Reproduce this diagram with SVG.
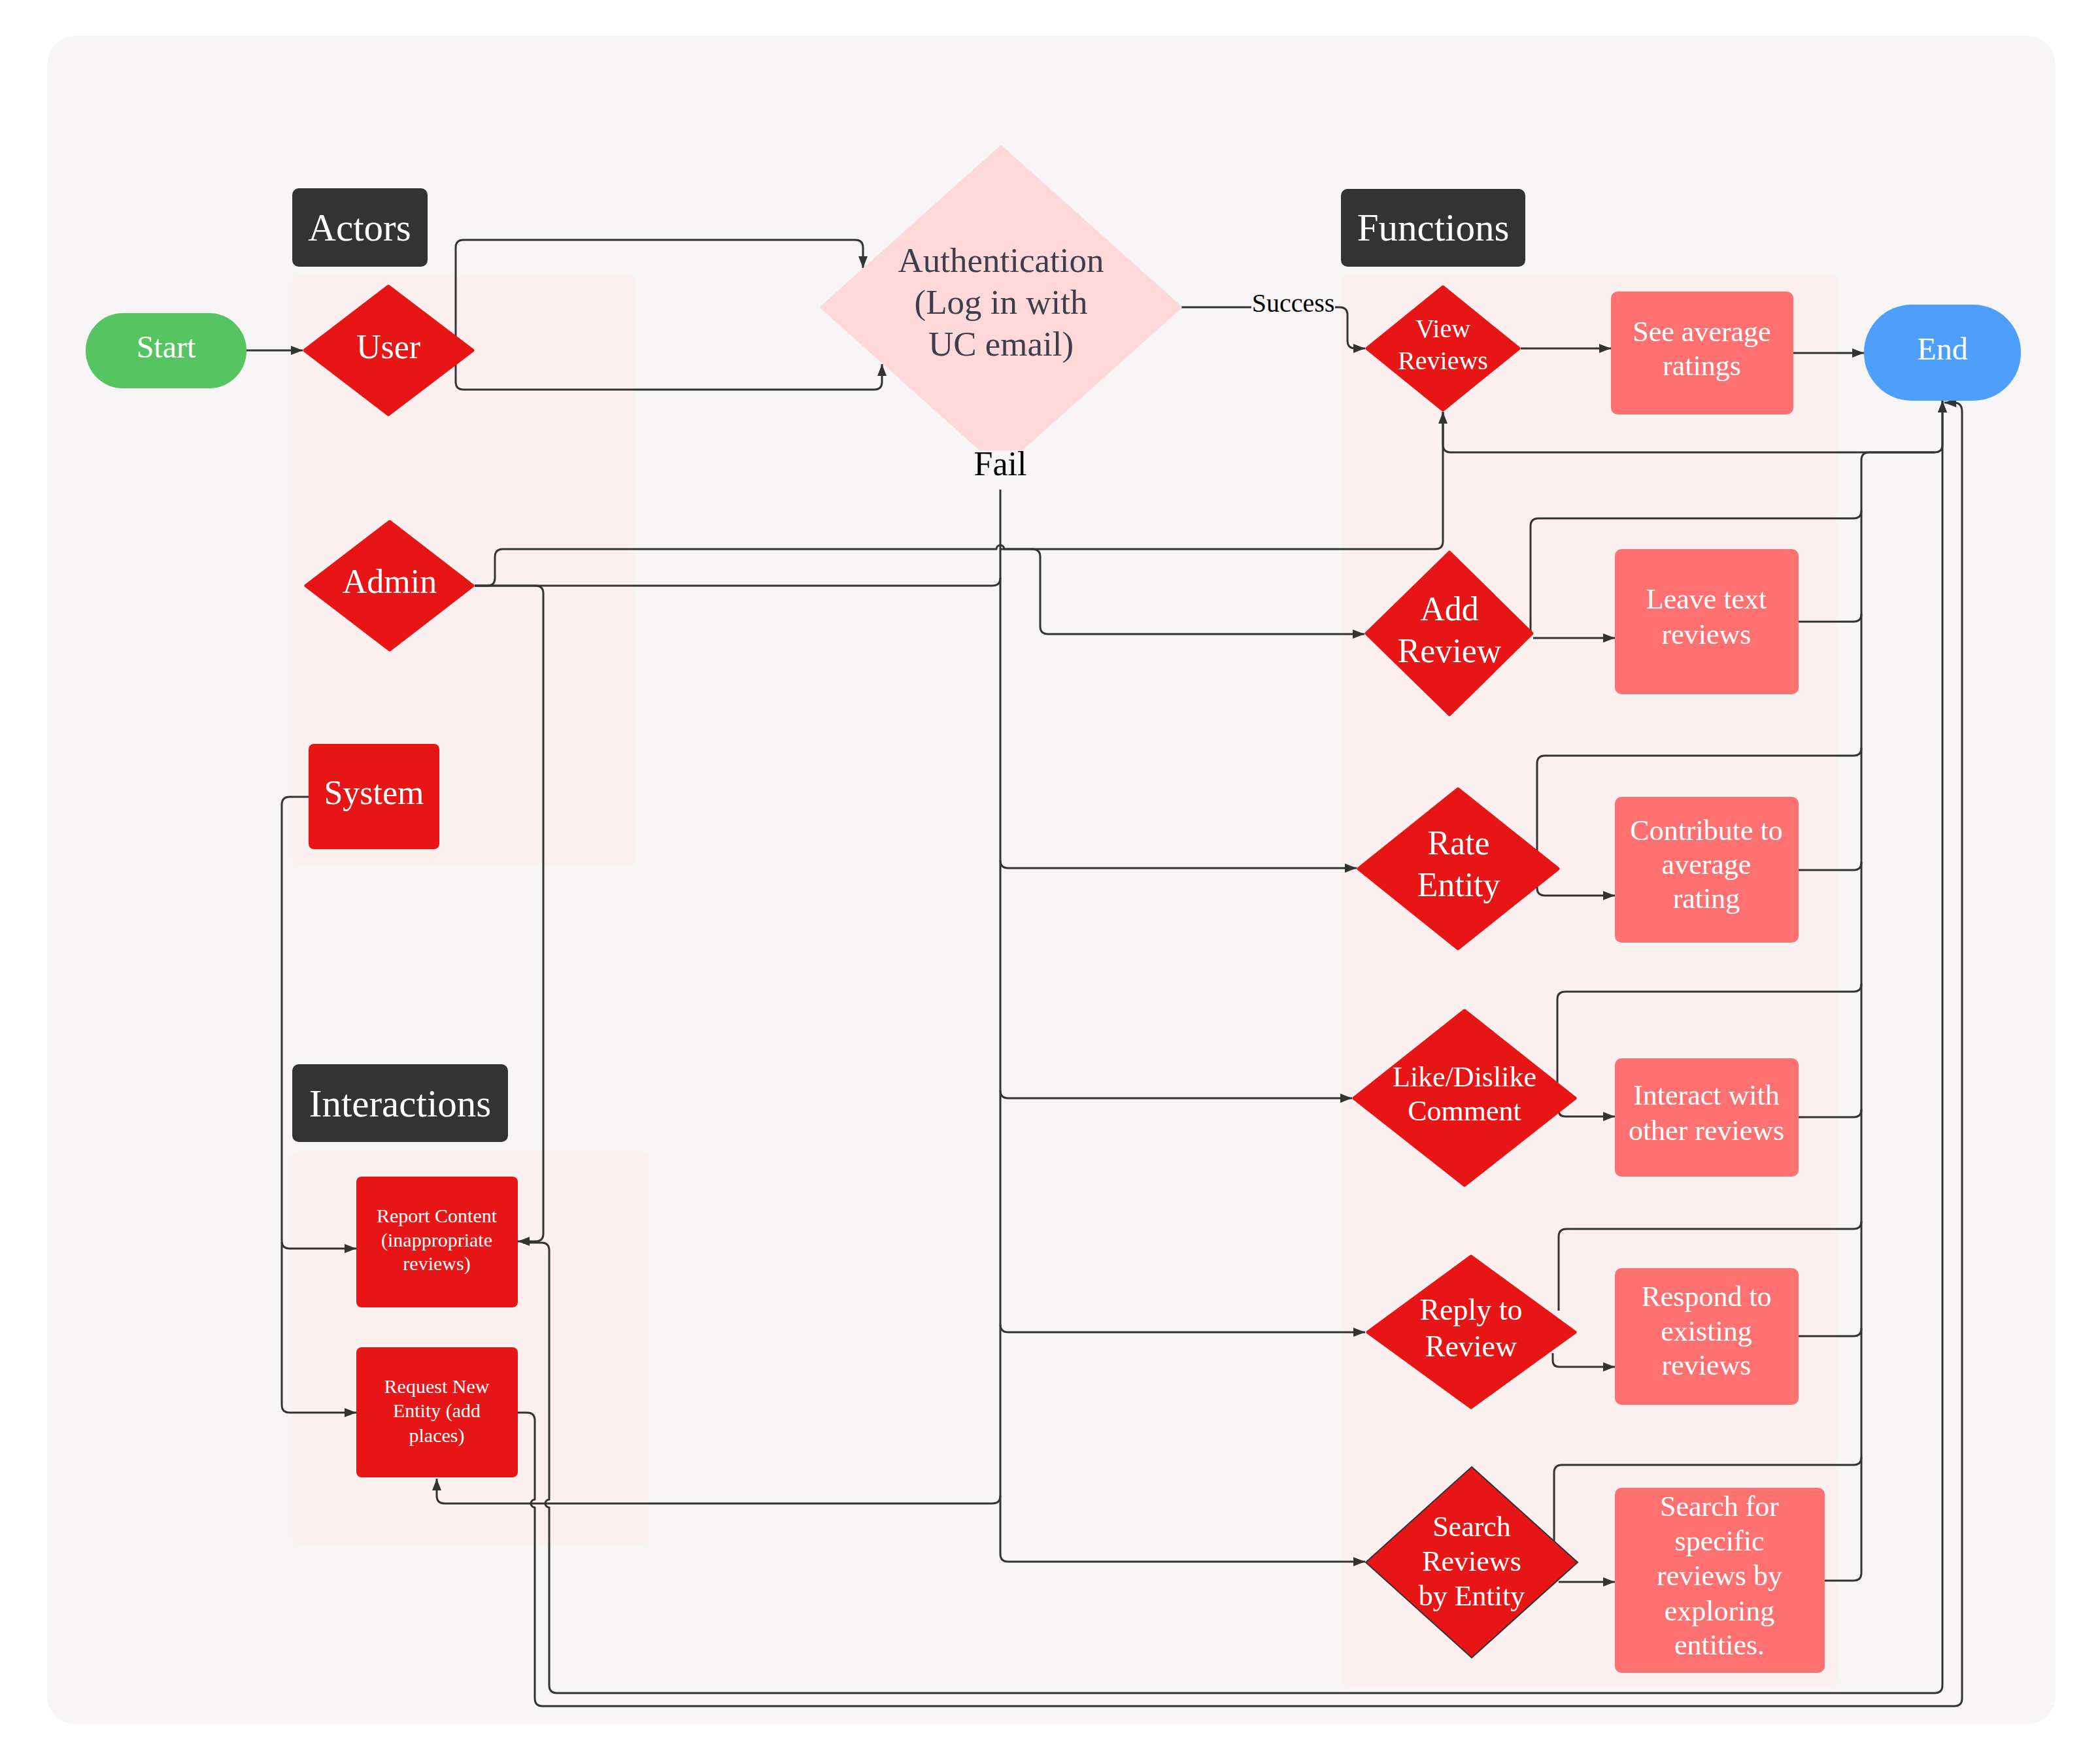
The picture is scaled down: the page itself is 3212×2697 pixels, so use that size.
<svg xmlns="http://www.w3.org/2000/svg" width="3212" height="2697" viewBox="0 0 3212 2697">
  <style>
    .ln { fill: none; stroke: #333333; stroke-width: 3; stroke-linejoin: round; stroke-linecap: butt; }
    .arr { marker-end: url(#ah); }
    .t { font-family: 'Liberation Serif', 'Times New Roman', serif; fill: #ffffff; text-anchor: middle; }
    .dark { fill: #333333; }
    .panel { fill: #fdf0f0; }
    .red { fill: #e71515; stroke: #e71515; stroke-width: 5; stroke-linejoin: round; }
    .salmon { fill: #ff7171; }
    .lbl { font-family: 'Liberation Serif', 'Times New Roman', serif; fill: #000000; text-anchor: middle; }
  </style>
  <defs>
    <marker id="ah" markerUnits="userSpaceOnUse" markerWidth="20" markerHeight="14" refX="18" refY="7" orient="auto">
      <path d="M0,0 L18,7 L0,14 z" fill="#333333"/>
    </marker>
  </defs>

  <!-- canvas -->
  <rect x="0" y="0" width="3212" height="2697" fill="#ffffff"/>
  <rect x="72" y="55" width="3072" height="2583" rx="44" fill="#f7f5f6"/>

  <!-- swimlane panels -->
  <g id="panels">
    <rect class="panel" x="447" y="420" width="524" height="905" rx="12"/>
    <rect class="panel" x="2051" y="420" width="760" height="2158" rx="12"/>
    <rect class="panel" x="447" y="1761" width="545" height="603" rx="12"/>
  </g>

  <!-- section headers -->
  <g id="hdr-actors">
    <rect class="dark" x="447" y="288" width="207" height="120" rx="10"/>
    <text class="t" x="550" y="368" font-size="59">Actors</text>
  </g>
  <g id="hdr-functions">
    <rect class="dark" x="2051" y="289" width="282" height="119" rx="10"/>
    <text class="t" x="2192" y="368" font-size="59">Functions</text>
  </g>
  <g id="hdr-interactions">
    <rect class="dark" x="447" y="1628" width="330" height="119" rx="10"/>
    <text class="t" x="612" y="1708" font-size="59">Interactions</text>
  </g>

  <!-- connectors -->
  <g id="connectors">
    <!-- Start to User -->
    <path class="ln arr" d="M377,536 H463"/>
    <!-- User to Authentication -->
    <path class="ln arr" d="M697,540 V379 Q697,367 709,367 H1308 Q1320,367 1320,379 V410"/>
    <path class="ln arr" d="M697,530 V584 Q697,596 709,596 H1337 Q1349,596 1349,584 V557"/>
    <!-- Authentication success to View Reviews -->
    <path class="ln arr" d="M1807,470 H2049 Q2061,470 2061,482 V521 Q2061,533 2073,533 H2088"/>
    <!-- View Reviews row -->
    <path class="ln arr" d="M2326,533 H2464"/>
    <path class="ln arr" d="M2743,540 H2851"/>
    <path class="ln arr" d="M2207,630 V680 Q2207,692 2219,692 H2959 Q2971,692 2971,680 V613"/>
    <!-- Admin to View Reviews (hops over the fail line) -->
    <path class="ln arr" d="M726,896 H745 Q757,896 757,884 V852 Q757,840 769,840 H1524 A6,6 0 0 1 1536,840 H2195 Q2207,840 2207,828 V630"/>
    <!-- Admin joins the fail line -->
    <path class="ln" d="M726,896 H1518 Q1530,896 1530,884"/>
    <!-- Fail trunk down to Search Reviews by Entity -->
    <path class="ln arr" d="M1530,749 V2377 Q1530,2389 1542,2389 H2088"/>
    <!-- branch to Add Review -->
    <path class="ln arr" d="M1530,840 H1579 Q1591,840 1591,852 V958 Q1591,970 1603,970 H2087"/>
    <!-- branch to Rate Entity -->
    <path class="ln arr" d="M1530,1316 Q1530,1328 1542,1328 H2075"/>
    <!-- branch to Like/Dislike -->
    <path class="ln arr" d="M1530,1668 Q1530,1680 1542,1680 H2068"/>
    <!-- branch to Reply -->
    <path class="ln arr" d="M1530,2026 Q1530,2038 1542,2038 H2088"/>
    <!-- branch to Request New Entity -->
    <path class="ln arr" d="M1530,2288 Q1530,2300 1518,2300 H680 Q668,2300 668,2288 V2262"/>

    <!-- function diamonds to their result boxes -->
    <path class="ln arr" d="M2345,976 H2470"/>
    <path class="ln arr" d="M2351,1345 V1358 Q2351,1370 2363,1370 H2470"/>
    <path class="ln arr" d="M2384,1698 Q2384,1708 2394,1708 H2470"/>
    <path class="ln arr" d="M2375,2070 V2081 Q2375,2091 2385,2091 H2470"/>
    <path class="ln arr" d="M2384,2420 H2470"/>

    <!-- trunk to End -->
    <path class="ln" d="M2791,2418 H2835 Q2847,2418 2847,2406 V704 Q2847,692 2859,692 H2959"/>
    <path class="ln" d="M2751,951 H2835 Q2847,951 2847,939"/>
    <path class="ln" d="M2341,968 V805 Q2341,793 2353,793 H2835 Q2847,793 2847,781"/>
    <path class="ln" d="M2351,1340 V1168 Q2351,1156 2363,1156 H2835 Q2847,1156 2847,1144"/>
    <path class="ln" d="M2751,1331 H2835 Q2847,1331 2847,1319"/>
    <path class="ln" d="M2382,1660 V1529 Q2382,1517 2394,1517 H2835 Q2847,1517 2847,1505"/>
    <path class="ln" d="M2751,1709 H2835 Q2847,1709 2847,1697"/>
    <path class="ln" d="M2384,2005 V1892 Q2384,1880 2396,1880 H2835 Q2847,1880 2847,1868"/>
    <path class="ln" d="M2751,2044 H2835 Q2847,2044 2847,2032"/>
    <path class="ln" d="M2377,2360 V2253 Q2377,2241 2389,2241 H2835 Q2847,2241 2847,2229"/>

    <!-- System to interactions -->
    <path class="ln arr" d="M472,1219 H443 Q431,1219 431,1231 V1898 Q431,1910 443,1910 H545"/>
    <path class="ln arr" d="M431,1900 V2149 Q431,2161 443,2161 H545"/>
    <!-- Admin to Report Content -->
    <path class="ln arr" d="M726,896 H819 Q831,896 831,908 V1887 Q831,1899 819,1899 H792"/>
    <!-- Report Content to End -->
    <path class="ln arr" d="M800,1901 H828 Q840,1901 840,1913 V2294 A6,6 0 0 0 840,2306 V2578 Q840,2590 852,2590 H2959 Q2971,2590 2971,2578 V613"/>
    <!-- Request New Entity to End -->
    <path class="ln arr" d="M792,2161 H806 Q818,2161 818,2173 V2294 A6,6 0 0 0 818,2306 V2598 Q818,2610 830,2610 H2989 Q3001,2610 3001,2598 V630 Q3001,616 2989,616 H2974"/>
  </g>

  <!-- nodes -->
  <g id="start">
    <rect x="131" y="479" width="246" height="115" rx="57" fill="#55c461"/>
    <text class="t" x="254" y="547" font-size="48">Start</text>
  </g>
  <g id="user">
    <polygon class="red" points="594,438 723,536 594,634 466,536"/>
    <text class="t" x="594" y="548" font-size="52">User</text>
  </g>
  <g id="admin">
    <polygon class="red" points="596,798 723,896 596,994 468,896"/>
    <text class="t" x="596" y="907" font-size="52">Admin</text>
  </g>
  <g id="system">
    <rect x="472" y="1138" width="200" height="161" rx="8" fill="#e71515"/>
    <text class="t" x="572" y="1230" font-size="52">System</text>
  </g>
  <g id="auth">
    <polygon points="1531,225 1805,470 1531,715 1257,470" fill="#ffd9d9" stroke="#ffd9d9" stroke-width="5" stroke-linejoin="round"/>
    <text class="t" x="1531" y="416" font-size="53" style="fill:#3b3f4c">Authentication</text>
    <text class="t" x="1531" y="480" font-size="53" style="fill:#3b3f4c">(Log in with</text>
    <text class="t" x="1531" y="544" font-size="53" style="fill:#3b3f4c">UC email)</text>
  </g>
  <g id="view-reviews">
    <polygon class="red" points="2207,439 2323,533 2207,627 2091,533"/>
    <text class="t" x="2207" y="516" font-size="40">View</text>
    <text class="t" x="2207" y="565" font-size="40">Reviews</text>
  </g>
  <g id="see-average">
    <rect class="salmon" x="2464" y="446" width="279" height="188" rx="10"/>
    <text class="t" x="2603" y="522" font-size="44">See average</text>
    <text class="t" x="2603" y="574" font-size="44">ratings</text>
  </g>
  <g id="end">
    <rect x="2851" y="466" width="240" height="147" rx="73" fill="#4e9ffc"/>
    <text class="t" x="2971" y="550" font-size="48">End</text>
  </g>
  <g id="add-review">
    <polygon class="red" points="2217,845 2343,969 2217,1093 2090,969"/>
    <text class="t" x="2217" y="949" font-size="52">Add</text>
    <text class="t" x="2217" y="1013" font-size="52">Review</text>
  </g>
  <g id="leave-text">
    <rect class="salmon" x="2470" y="840" width="281" height="222" rx="10"/>
    <text class="t" x="2610" y="931" font-size="44">Leave text</text>
    <text class="t" x="2610" y="985" font-size="44">reviews</text>
  </g>
  <g id="rate-entity">
    <polygon class="red" points="2230,1207 2383,1329 2230,1451 2078,1329"/>
    <text class="t" x="2231" y="1307" font-size="52">Rate</text>
    <text class="t" x="2231" y="1371" font-size="52">Entity</text>
  </g>
  <g id="contribute">
    <rect class="salmon" x="2470" y="1219" width="281" height="223" rx="10"/>
    <text class="t" x="2610" y="1285" font-size="44">Contribute to</text>
    <text class="t" x="2610" y="1337" font-size="44">average</text>
    <text class="t" x="2610" y="1389" font-size="44">rating</text>
  </g>
  <g id="like-dislike">
    <polygon class="red" points="2240,1546 2409,1680 2240,1813 2071,1680"/>
    <text class="t" x="2240" y="1662" font-size="44">Like/Dislike</text>
    <text class="t" x="2240" y="1714" font-size="44">Comment</text>
  </g>
  <g id="interact">
    <rect class="salmon" x="2470" y="1619" width="281" height="181" rx="10"/>
    <text class="t" x="2610" y="1690" font-size="44">Interact with</text>
    <text class="t" x="2610" y="1744" font-size="44">other reviews</text>
  </g>
  <g id="reply">
    <polygon class="red" points="2250,1922 2409,2038 2250,2153 2092,2038"/>
    <text class="t" x="2250" y="2019" font-size="46">Reply to</text>
    <text class="t" x="2250" y="2075" font-size="46">Review</text>
  </g>
  <g id="respond">
    <rect class="salmon" x="2470" y="1940" width="281" height="209" rx="10"/>
    <text class="t" x="2610" y="1998" font-size="44">Respond to</text>
    <text class="t" x="2610" y="2051" font-size="44">existing</text>
    <text class="t" x="2610" y="2103" font-size="44">reviews</text>
  </g>
  <g id="search-entity">
    <polygon points="2251,2244 2413,2390 2251,2536 2089,2390" fill="#e71515" stroke="#333333" stroke-width="2"/>
    <text class="t" x="2251" y="2350" font-size="44">Search</text>
    <text class="t" x="2251" y="2403" font-size="44">Reviews</text>
    <text class="t" x="2251" y="2456" font-size="44">by Entity</text>
  </g>
  <g id="search-for">
    <rect class="salmon" x="2470" y="2276" width="321" height="283" rx="10"/>
    <text class="t" x="2630" y="2319" font-size="44">Search for</text>
    <text class="t" x="2630" y="2372" font-size="44">specific</text>
    <text class="t" x="2630" y="2425" font-size="44">reviews by</text>
    <text class="t" x="2630" y="2479" font-size="44">exploring</text>
    <text class="t" x="2630" y="2531" font-size="44">entities.</text>
  </g>
  <g id="report-content">
    <rect x="545" y="1800" width="247" height="200" rx="8" fill="#e71515"/>
    <text class="t" x="668" y="1870" font-size="30">Report Content</text>
    <text class="t" x="668" y="1907" font-size="30">(inappropriate</text>
    <text class="t" x="668" y="1943" font-size="30">reviews)</text>
  </g>
  <g id="request-entity">
    <rect x="545" y="2061" width="247" height="199" rx="8" fill="#e71515"/>
    <text class="t" x="668" y="2131" font-size="30">Request New</text>
    <text class="t" x="668" y="2168" font-size="30">Entity (add</text>
    <text class="t" x="668" y="2206" font-size="30">places)</text>
  </g>

  <!-- connector labels -->
  <g id="label-success">
    <rect x="1914" y="448" width="128" height="40" fill="#f7f5f6"/>
    <text class="lbl" x="1978" y="477" font-size="40">Success</text>
  </g>
  <g id="label-fail">
    <rect x="1488" y="689" width="86" height="56" fill="#f7f5f6"/>
    <text class="lbl" x="1530" y="727" font-size="52">Fail</text>
  </g>
</svg>
